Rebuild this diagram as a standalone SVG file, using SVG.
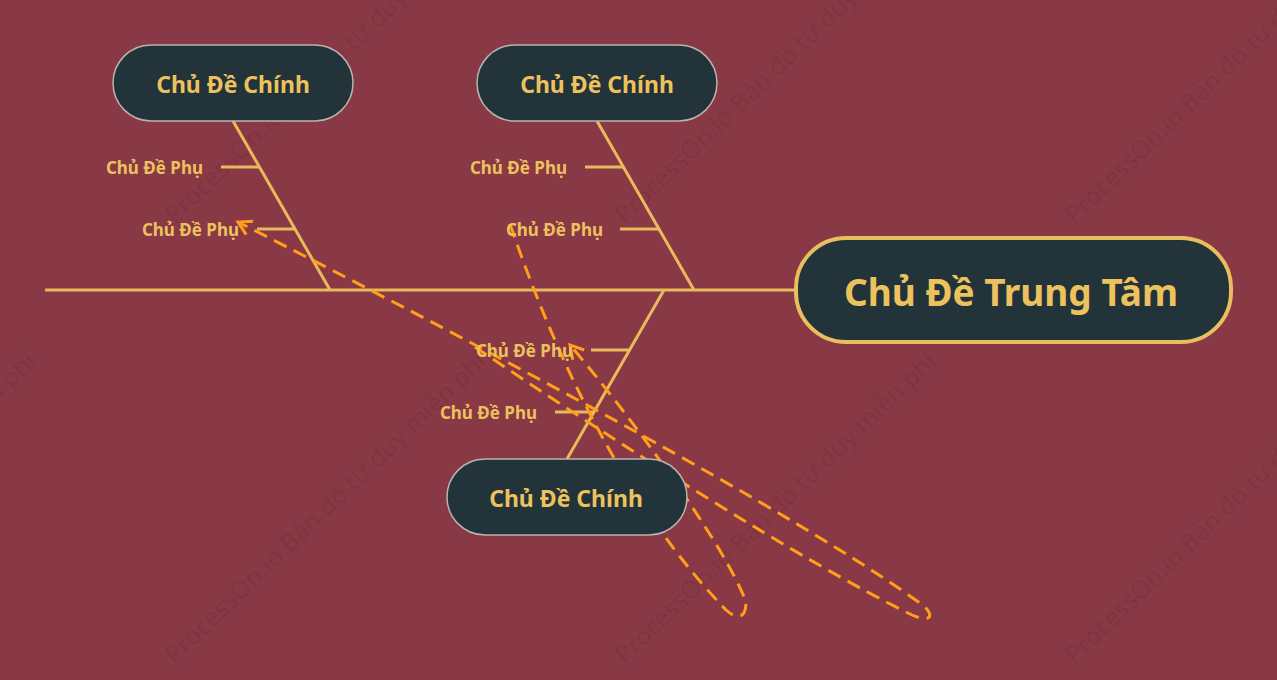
<svg xmlns="http://www.w3.org/2000/svg" width="1277" height="680" viewBox="0 0 1277 680">
  <defs>
    <style>
      .bg { fill: #893845; }
      .wm { font-family: "Noto Sans", "Liberation Sans", sans-serif; font-size: 25px; fill: #3a1a20; fill-opacity: 0.12; }
      .bone { stroke: #E9BA5C; stroke-width: 3; fill: none; stroke-linecap: butt; }
      .main rect { fill: #223339; stroke: #B9B4B0; stroke-width: 1.5; }
      .main text { font-family: "Noto Sans", "Open Sans", "Liberation Sans", sans-serif; font-weight: bold; font-size: 23px; fill: #EDC25E; text-anchor: middle; dominant-baseline: central; }
      .center rect { fill: #223339; stroke: #E9BE5E; stroke-width: 4; }
      .center text { font-family: "Noto Sans", "Open Sans", "Liberation Sans", sans-serif; font-weight: bold; font-size: 37px; fill: #EDC25E; text-anchor: middle; dominant-baseline: central; }
      .sub text { font-family: "Noto Sans", "Open Sans", "Liberation Sans", sans-serif; font-weight: bold; font-size: 17px; fill: #EDC25E; text-anchor: end; dominant-baseline: central; }
      .rel { stroke: #FF9F1A; stroke-width: 3; fill: none; stroke-dasharray: 14 8; }
    </style>
    <marker id="arrow" viewBox="-16 -10 20 20" markerWidth="20" markerHeight="20" refX="0" refY="0" orient="auto" markerUnits="userSpaceOnUse">
      <path d="M -13 -7.5 L 0 0 L -13 7.5" fill="none" stroke="#FF9F1A" stroke-width="3"/>
    </marker>
  </defs>

  <rect class="bg" x="0" y="0" width="1277" height="680"/>

  <g id="watermark">
    <text class="wm" transform="translate(175,225) rotate(-44)">ProcessOn.io Bản đồ tư duy miễn phí</text>
    <text class="wm" transform="translate(625,225) rotate(-44)">ProcessOn.io Bản đồ tư duy miễn phí</text>
    <text class="wm" transform="translate(1075,225) rotate(-44)">ProcessOn.io Bản đồ tư duy miễn phí</text>
    <text class="wm" transform="translate(-275,665) rotate(-44)">ProcessOn.io Bản đồ tư duy miễn phí</text>
    <text class="wm" transform="translate(175,665) rotate(-44)">ProcessOn.io Bản đồ tư duy miễn phí</text>
    <text class="wm" transform="translate(625,665) rotate(-44)">ProcessOn.io Bản đồ tư duy miễn phí</text>
    <text class="wm" transform="translate(1075,665) rotate(-44)">ProcessOn.io Bản đồ tư duy miễn phí</text>
  </g>

  <g id="connectors">
    <line class="bone" x1="45" y1="290" x2="796" y2="290"/>
    <line class="bone" x1="233" y1="121" x2="330" y2="290"/>
    <line class="bone" x1="597" y1="121" x2="694" y2="290"/>
    <line class="bone" x1="664" y1="290" x2="567" y2="459"/>
    <line class="bone" x1="221" y1="167" x2="260" y2="167"/>
    <line class="bone" x1="257" y1="229" x2="296" y2="229"/>
    <line class="bone" x1="585" y1="167" x2="624" y2="167"/>
    <line class="bone" x1="620" y1="229" x2="660" y2="229"/>
    <line class="bone" x1="591" y1="350" x2="630" y2="350"/>
    <line class="bone" x1="555" y1="412" x2="595" y2="412"/>
  </g>

  <g id="relationships">
    <path class="rel" d="M 475 347 C 620 445, 800 560, 912 615 C 928 622, 936 618, 924 606 C 800 515, 480 345, 238 222" marker-end="url(#arrow)"/>
    <path class="rel" d="M 510 224 C 560 370, 630 510, 726 610 C 736 619, 746 620, 746 602 C 725 545, 630 415, 570 345" marker-end="url(#arrow)"/>
  </g>

  <g id="central-topic" class="center">
    <rect x="796" y="238" width="435" height="104" rx="50" ry="50"/>
    <text x="1011" y="291">Chủ Đề Trung Tâm</text>
  </g>

  <g id="main-topic-1" class="main">
    <rect x="113" y="45" width="240" height="76" rx="38" ry="38"/>
    <text x="233" y="84">Chủ Đề Chính</text>
  </g>
  <g id="main-topic-2" class="main">
    <rect x="477" y="45" width="240" height="76" rx="38" ry="38"/>
    <text x="597" y="84">Chủ Đề Chính</text>
  </g>
  <g id="main-topic-3" class="main">
    <rect x="447" y="459" width="240" height="76" rx="38" ry="38"/>
    <text x="566" y="498">Chủ Đề Chính</text>
  </g>

  <g id="sub-1-1" class="sub"><text x="203" y="167">Chủ Đề Phụ</text></g>
  <g id="sub-1-2" class="sub"><text x="239" y="229">Chủ Đề Phụ</text></g>
  <g id="sub-2-1" class="sub"><text x="567" y="167">Chủ Đề Phụ</text></g>
  <g id="sub-2-2" class="sub"><text x="603" y="229">Chủ Đề Phụ</text></g>
  <g id="sub-3-1" class="sub"><text x="573" y="350">Chủ Đề Phụ</text></g>
  <g id="sub-3-2" class="sub"><text x="537" y="412">Chủ Đề Phụ</text></g>
</svg>
